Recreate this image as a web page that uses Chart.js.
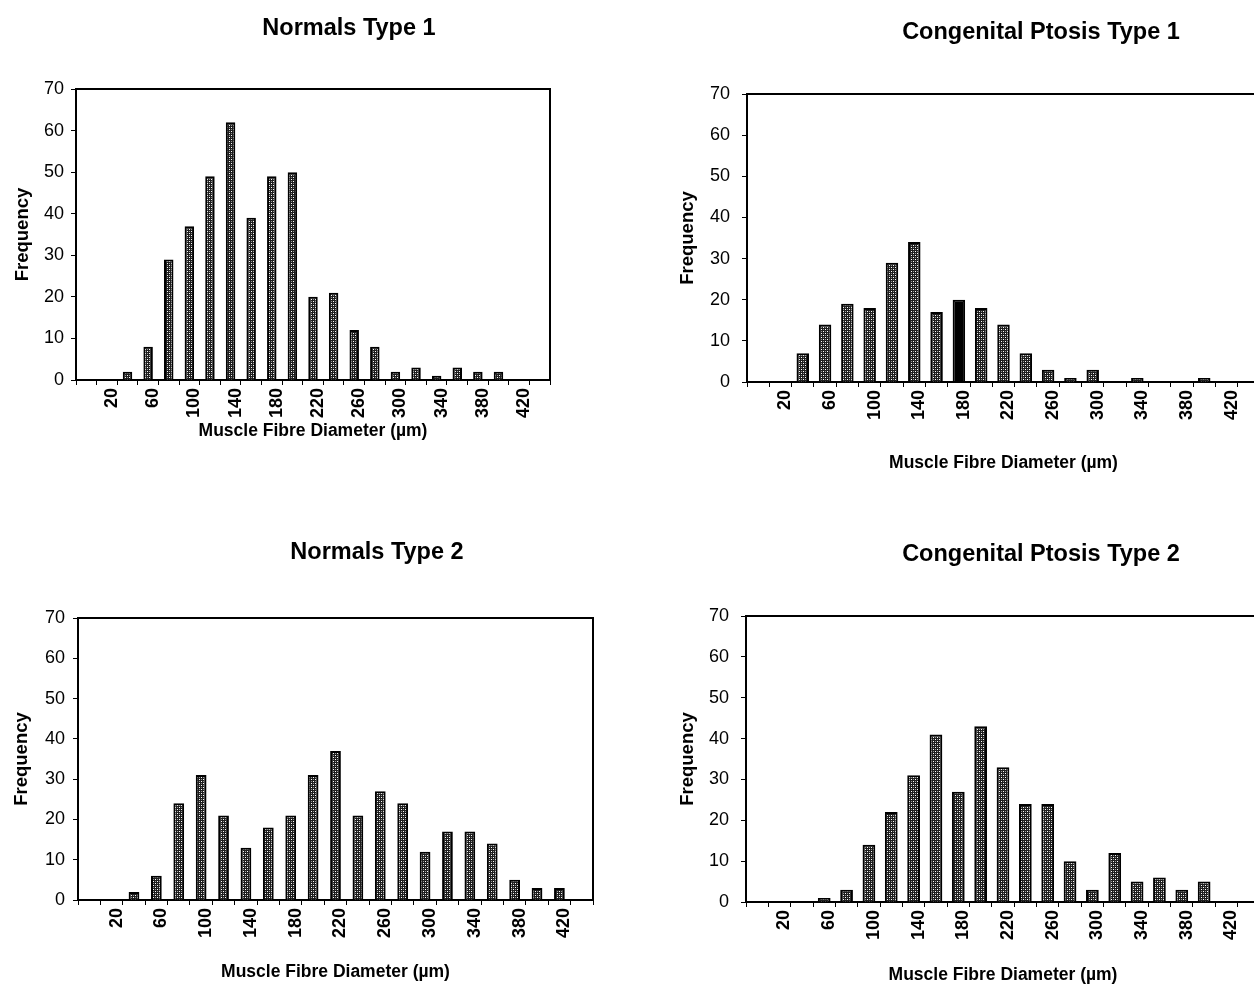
<!DOCTYPE html>
<html>
<head>
<meta charset="utf-8">
<script src="https://cdn.jsdelivr.net/npm/chart.js@4.4.1/dist/chart.umd.min.js"></script>
<style>
html, body { margin: 0; padding: 0; background: #fff; }
body { position: relative; width: 1254px; height: 989px; overflow: hidden; }
canvas { position: absolute; }
</style>
</head>
<body>
<canvas id="normals1" style="left:0px;top:0px" width="700" height="460"></canvas>
<canvas id="ptosis1" style="left:660px;top:0px" width="760" height="490"></canvas>
<canvas id="normals2" style="left:0px;top:520px" width="750" height="469"></canvas>
<canvas id="ptosis2" style="left:660px;top:520px" width="760" height="469"></canvas>
<script>
"use strict"
// bins of muscle fibre diameter (µm)
const diameters = ['0','20','40','60','80','100','120','140','160','180','200','220',
                   '240','260','280','300','320','340','360','380','400','420','440'];
const tickLabels = ['20','60','100','140','180','220','260','300','340','380','420'];

const normals1 = [0,0,2,8,29,37,49,62,39,49,50,20,21,12,8,2,3,1,3,2,2,0,0];
const ptosis1  = [0,0,7,14,19,18,29,34,17,20,18,14,7,3,1,3,0,1,0,0,1,0,0];
const normals2 = [0,0,2,6,24,31,21,13,18,21,31,37,21,27,24,12,17,17,14,5,3,3,0];
const ptosis2  = [0,0,0,1,3,14,22,31,41,27,43,33,24,24,10,3,12,5,6,3,5,0,0];
const ptosis1Solid = ['180'];   // the one bar printed solid black

const FONT = "'Liberation Sans', Arial, sans-serif";
Chart.defaults.font.family = FONT;
Chart.defaults.color = '#000';

function hatch() {
    const c = document.createElement('canvas');
    c.width = 4; c.height = 4;
    const g = c.getContext('2d');
    g.fillStyle = '#1e1e1e';
    g.fillRect(0, 0, 4, 4);
    g.fillStyle = '#fff';
    g.fillRect(1, 1, 1, 1);
    g.fillRect(3, 3, 1, 1);
    g.fillStyle = '#999';
    g.fillRect(3, 1, 1, 1);
    g.fillRect(1, 3, 1, 1);
    return g.createPattern(c, 'repeat');
}

// top and right edges of the plot box, plus the panel heading
const frame = {
    id: 'frame',
    afterDraw(chart, args, opts) {
        const a = chart.chartArea, ctx = chart.ctx;
        ctx.save();
        ctx.strokeStyle = '#000';
        ctx.lineWidth = 2;
        ctx.beginPath();
        ctx.moveTo(a.left, a.top);
        ctx.lineTo(a.right, a.top);
        ctx.lineTo(a.right, a.bottom);
        ctx.stroke();
        ctx.fillStyle = '#000';
        ctx.font = 'bold 23.5px ' + FONT;
        ctx.textAlign = 'center';
        ctx.textBaseline = 'middle';
        ctx.fillText(opts.text, opts.x, opts.y);
        ctx.restore();
    }
};

function drawHist(id, title, values, solid, o) {
    const pat = hatch();
    const colors = diameters.map(d => solid.includes(d) ? '#000' : pat);
    new Chart(document.getElementById(id), {
        type: 'bar',
        data: {
            labels: diameters,
            datasets: [{
                data: values,
                backgroundColor: colors,
                borderColor: '#000',
                borderWidth: 2,
                borderSkipped: 'bottom',
                barPercentage: o.bar,
                categoryPercentage: 1
            }]
        },
        options: {
            responsive: false,
            animation: false,
            layout: { padding: { left: 0, right: o.padRight, top: o.top, bottom: 0 } },
            plugins: {
                legend: { display: false },
                tooltip: { enabled: false },
                title: { display: false },
                frame: { text: title, x: o.titleX, y: o.titleY }
            },
            scales: {
                x: {
                    afterFit: s => { s.height = o.xHeight; },
                    border: { color: '#000', width: 2 },
                    grid: { drawOnChartArea: false, tickLength: 5, color: '#000', lineWidth: 1 },
                    ticks: {
                        autoSkip: false,
                        maxRotation: 90,
                        minRotation: 90,
                        padding: 3,
                        labelOffset: 5,
                        font: { size: 18, weight: 'bold' },
                        callback: function (v, i) {
                            const lab = diameters[i];
                            return tickLabels.includes(lab) ? lab : '';
                        }
                    },
                    title: {
                        display: true,
                        text: 'Muscle Fibre Diameter (µm)',
                        font: { size: 17.5, weight: 'bold' },
                        padding: { top: 0, bottom: o.xTitleBottom }
                    }
                },
                y: {
                    min: 0,
                    max: 70,
                    afterFit: s => { s.width = o.yWidth; },
                    border: { color: '#000', width: 2 },
                    grid: { drawOnChartArea: false, tickLength: 5, color: '#000', lineWidth: 1 },
                    ticks: {
                        stepSize: 10,
                        padding: o.yTickPad,
                        font: { size: 18 }
                    },
                    title: {
                        display: true,
                        text: 'Frequency',
                        font: { size: 18.5, weight: 'bold' },
                        padding: { top: o.yTitleTop, bottom: 0 }
                    }
                }
            }
        },
        plugins: [frame]
    });
}

drawHist('normals1', 'Normals Type 1', normals1, [], {
    bar: 0.46, padRight: 150, top: 89, titleX: 349, titleY: 29,
    xHeight: 80, xTitleBottom: 18.5, yWidth: 76, yTitleTop: 12, yTickPad: 7
});
drawHist('ptosis1', 'Congenital Ptosis Type 1', ptosis1, ptosis1Solid, {
    bar: 0.56, padRight: 160, top: 94, titleX: 381, titleY: 33,
    xHeight: 108, xTitleBottom: 16.5, yWidth: 87, yTitleTop: 17, yTickPad: 12
});
drawHist('normals2', 'Normals Type 2', normals2, [], {
    bar: 0.48, padRight: 157, top: 98, titleX: 377, titleY: 33,
    xHeight: 89, xTitleBottom: 6.5, yWidth: 78, yTitleTop: 11, yTickPad: 8
});
drawHist('ptosis2', 'Congenital Ptosis Type 2', ptosis2, [], {
    bar: 0.57, padRight: 160, top: 96, titleX: 381, titleY: 35,
    xHeight: 87, xTitleBottom: 3.5, yWidth: 86, yTitleTop: 17, yTickPad: 12
});
</script>
</body>
</html>
